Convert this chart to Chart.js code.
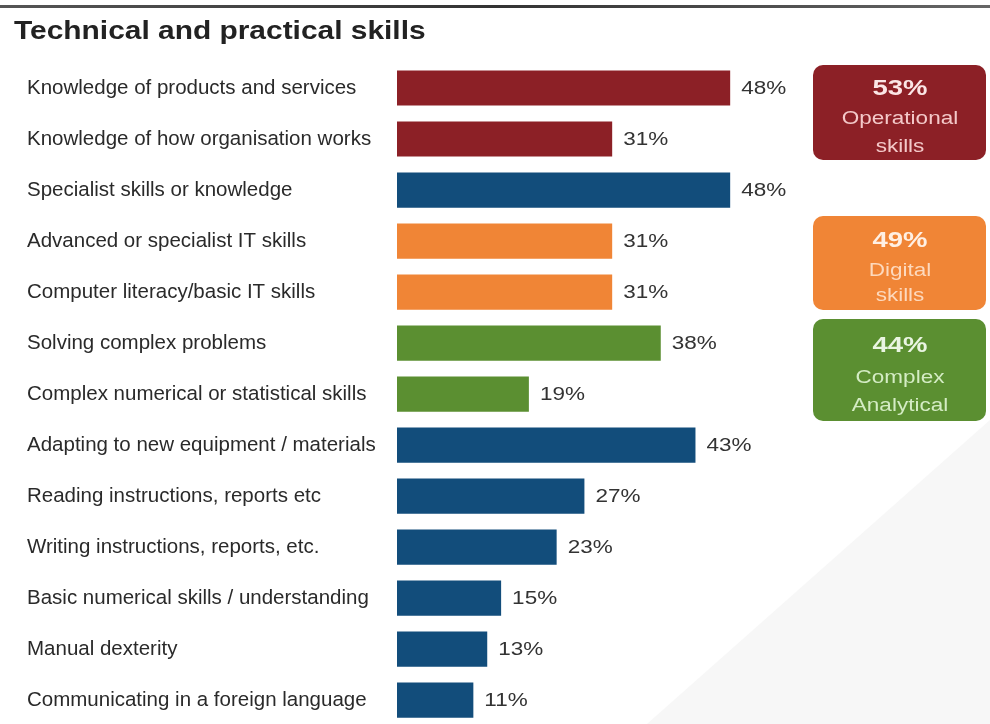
<!DOCTYPE html>
<html>
<head>
<meta charset="utf-8">
<script src="https://cdn.jsdelivr.net/npm/chart.js@4"></script>
<style>
  html, body { margin: 0; padding: 0; background: #fff; overflow: hidden; }
  #wrap { position: relative; width: 990px; height: 738px; }
</style>
</head>
<body>
<div id="wrap"><canvas id="skillsChart"></canvas></div>
<script>
// skills and share of respondents (%)
const skills = [
  'Knowledge of products and services',
  'Knowledge of how organisation works',
  'Specialist skills or knowledge',
  'Advanced or specialist IT skills',
  'Computer literacy/basic IT skills',
  'Solving complex problems',
  'Complex numerical or statistical skills',
  'Adapting to new equipment / materials',
  'Reading instructions, reports etc',
  'Writing instructions, reports, etc.',
  'Basic numerical skills / understanding',
  'Manual dexterity',
  'Communicating in a foreign language'
];
const shares = [48, 31, 48, 31, 31, 38, 19, 43, 27, 23, 15, 13, 11];
const groups = ['ops', 'ops', 'other', 'digital', 'digital', 'complex', 'complex',
                'other', 'other', 'other', 'other', 'other', 'other'];

// summary boxes on the right
const summaryGroups = ['ops', 'digital', 'complex'];
const summaryValues = [53, 49, 44];
const summaryLabels = [['Operational', 'skills'], ['Digital', 'skills'], ['Complex', 'Analytical']];

const groupColors = {
  ops: '#8c2026',
  digital: '#f08536',
  complex: '#5b8f31',
  other: '#124d7b'
};
const summaryText = {
  ops: ['#fbe6e6', '#f4c9c9'],
  digital: ['#fff0e4', '#fdd9bd'],
  complex: ['#eaf5e2', '#d4ecc4']
};

const FONT = '"Liberation Sans", Arial, sans-serif';

// text drawn a bit wider than the font's natural width
function wideText(ctx, text, x, y, sx) {
  ctx.save();
  ctx.translate(x, y);
  ctx.scale(sx, 1);
  ctx.fillText(text, 0, 0);
  ctx.restore();
}

// page background: rule at the top, title and the pale corner fold
const pageDecor = {
  id: 'pageDecor',
  beforeDraw(chart) {
    const ctx = chart.ctx;
    ctx.save();
    ctx.fillStyle = '#ffffff';
    ctx.fillRect(0, 0, chart.width, chart.height);
    ctx.fillStyle = '#f7f7f7';
    ctx.beginPath();
    ctx.moveTo(990, 420);
    ctx.lineTo(647, 724);
    ctx.lineTo(640, 738);
    ctx.lineTo(990, 738);
    ctx.closePath();
    ctx.fill();
    const g = ctx.createLinearGradient(0, 0, 990, 0);
    g.addColorStop(0, '#555');
    g.addColorStop(0.5, '#333');
    g.addColorStop(1, '#666');
    ctx.fillStyle = g;
    ctx.fillRect(0, 5, 990, 3);
    ctx.fillStyle = '#222';
    ctx.font = 'bold 26px ' + FONT;
    ctx.textBaseline = 'middle';
    ctx.textAlign = 'left';
    wideText(ctx, 'Technical and practical skills', 14, 32, 1.15);
    ctx.restore();
  }
};

// value labels next to the bars and the group summary boxes
const annotations = {
  id: 'annotations',
  afterDatasetsDraw(chart) {
    const ctx = chart.ctx;
    const meta = chart.getDatasetMeta(0);
    ctx.save();
    ctx.font = '18px ' + FONT;
    ctx.fillStyle = '#333';
    ctx.textBaseline = 'middle';
    ctx.textAlign = 'left';
    meta.data.forEach((bar, i) => {
      wideText(ctx, shares[i] + '%', bar.x + 11, bar.y + 1, 1.25);
    });

    const boxes = [[65, 160], [216, 310], [319, 421]];
    const textY = [[89, 119, 147], [241, 271, 296], [346, 378, 406]];
    summaryGroups.forEach((grp, i) => {
      const [top, bottom] = boxes[i];
      ctx.fillStyle = groupColors[grp];
      ctx.beginPath();
      ctx.roundRect(813, top, 173, bottom - top, 10);
      ctx.fill();
      ctx.textAlign = 'center';
      ctx.fillStyle = summaryText[grp][0];
      ctx.font = 'bold 22px ' + FONT;
      wideText(ctx, summaryValues[i] + '%', 900, textY[i][0], 1.25);
      ctx.fillStyle = summaryText[grp][1];
      ctx.font = '18px ' + FONT;
      wideText(ctx, summaryLabels[i][0], 900, textY[i][1], 1.25);
      wideText(ctx, summaryLabels[i][1], 900, textY[i][2], 1.25);
    });
    ctx.restore();
  }
};

new Chart(document.getElementById('skillsChart'), {
  type: 'bar',
  data: {
    labels: skills,
    datasets: [{
      data: shares,
      backgroundColor: groups.map(g => groupColors[g]),
      barPercentage: 0.69,
      categoryPercentage: 1.0
    }]
  },
  plugins: [pageDecor, annotations],
  options: {
    indexAxis: 'y',
    responsive: true,
    maintainAspectRatio: false,
    animation: false,
    events: [],
    layout: { padding: { left: 27, right: 3, top: 62.5, bottom: 0 } },
    plugins: {
      legend: { display: false },
      tooltip: { enabled: false }
    },
    scales: {
      x: {
        display: false,
        min: 0,
        max: 85
      },
      y: {
        grid: { display: false },
        border: { display: false },
        afterFit(scale) { scale.width = 370; },
        ticks: {
          crossAlign: 'far',
          padding: 0,
          color: '#2a2a2a',
          font: { size: 20.5, family: FONT }
        }
      }
    }
  }
});
</script>
</body>
</html>
